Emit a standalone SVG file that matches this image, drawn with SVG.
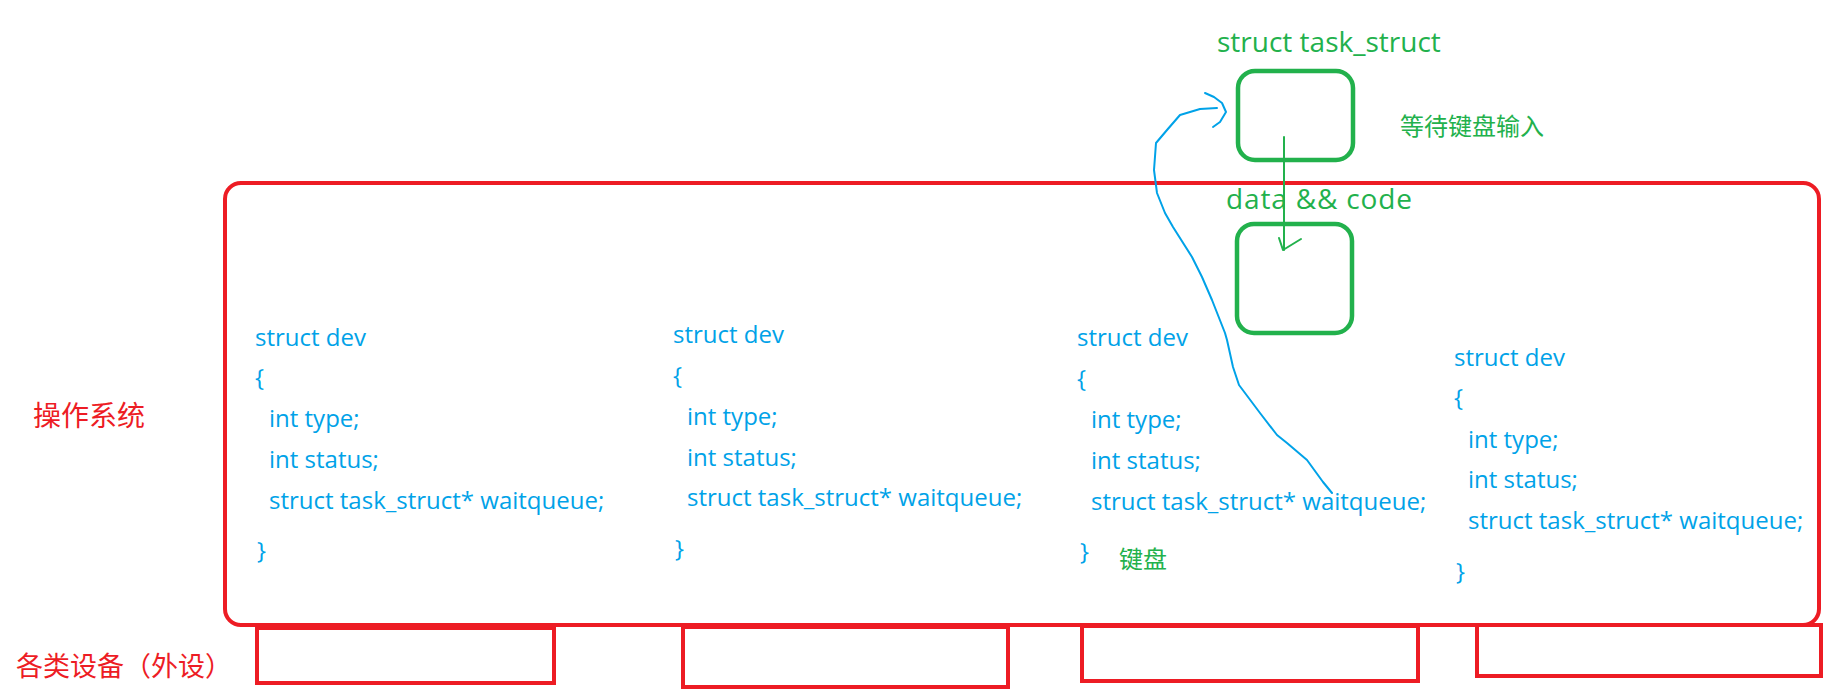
<svg xmlns="http://www.w3.org/2000/svg" width="1846" height="698" viewBox="0 0 1846 698">
<style>
.red{fill:none;stroke:#ed1c24;stroke-width:4}
.grn{fill:none;stroke:#22b14c;stroke-width:4.5}
.code{font-family:"Open Sans","Liberation Sans",sans-serif;font-size:24px;fill:#00a2e8}
.gt{font-family:"Open Sans","Liberation Sans",sans-serif;font-size:28px;fill:#22b14c}
.cjk-r{font-family:"Noto Sans CJK SC","Noto Sans",sans-serif;fill:#ed1c24}
.cjk-g{font-family:"Noto Sans CJK SC","Noto Sans",sans-serif;fill:#22b14c}
.blue{fill:none;stroke:#00a2e8;stroke-width:2;stroke-linejoin:round;stroke-linecap:round}
.garrow{fill:none;stroke:#22b14c;stroke-width:2;stroke-linecap:round;stroke-linejoin:round}
</style>
<rect width="1846" height="698" fill="#ffffff"/>
<g id="os">
<rect class="red" x="225" y="183" width="1594" height="442" rx="16"/>
<text class="cjk-r" x="33" y="426" font-size="28">操作系统</text>
</g>
<g id="devices">
<text class="cjk-r" x="16" y="676" font-size="27">各类设备（外设）</text>
<rect id="device1" class="red" x="257" y="628" width="297" height="55"/>
<rect id="device2" class="red" x="683" y="627" width="325" height="60"/>
<rect id="device3" class="red" x="1082" y="626" width="336" height="55"/>
<rect id="device4" class="red" x="1477" y="625" width="344" height="51"/>
</g>
<g id="dev1" class="code">
<text x="255" y="346">struct dev</text>
<text x="255" y="386">{</text>
<text x="269" y="427">int type;</text>
<text x="269" y="468">int status;</text>
<text x="269" y="509">struct task_struct* waitqueue;</text>
<text x="257" y="559">}</text>
</g>
<g id="dev2" class="code">
<text x="673" y="343">struct dev</text>
<text x="673" y="384">{</text>
<text x="687" y="425">int type;</text>
<text x="687" y="466">int status;</text>
<text x="687" y="506">struct task_struct* waitqueue;</text>
<text x="675" y="557">}</text>
</g>
<g id="dev3">
<g class="code">
<text x="1077" y="346">struct dev</text>
<text x="1077" y="387">{</text>
<text x="1091" y="428">int type;</text>
<text x="1091" y="469">int status;</text>
<text x="1091" y="510">struct task_struct* waitqueue;</text>
<text x="1080" y="560">}</text>
</g>
<text class="cjk-g" x="1119" y="568" font-size="24">键盘</text>
</g>
<g id="dev4" class="code">
<text x="1454" y="366">struct dev</text>
<text x="1454" y="406">{</text>
<text x="1468" y="448">int type;</text>
<text x="1468" y="488">int status;</text>
<text x="1468" y="529">struct task_struct* waitqueue;</text>
<text x="1456" y="580">}</text>
</g>
<g id="task_struct">
<text class="gt" x="1217" y="52">struct task_struct</text>
<rect class="grn" x="1238" y="71" width="115" height="89" rx="17"/>
<text class="cjk-g" x="1400" y="135" font-size="24">等待键盘输入</text>
</g>
<g id="data_code">
<text class="gt" x="1226" y="209" textLength="186" lengthAdjust="spacing">data &amp;&amp; code</text>
<rect class="grn" x="1237" y="224" width="115" height="109" rx="17"/>
</g>
<g id="connectors">
<path class="blue" d="M1332,493 L1323,482 L1307,460 L1287,443 L1277,435 L1260,413 L1239,385 L1233,367 L1227,340 L1225,333 L1212,300 L1202,277 L1192,257 L1173,227 L1165,213 L1157,193 L1154,170 L1156,143 L1167,130 L1180,115 L1200,109 L1217,108"/>
<path class="blue" d="M1205,93 L1214,97 L1222,103 L1226,112 L1220,122 L1213,127"/>
<path class="garrow" d="M1284,137 L1284,250"/>
<path class="garrow" d="M1279,238 L1283,250 L1301,239"/>
</g>
</svg>
